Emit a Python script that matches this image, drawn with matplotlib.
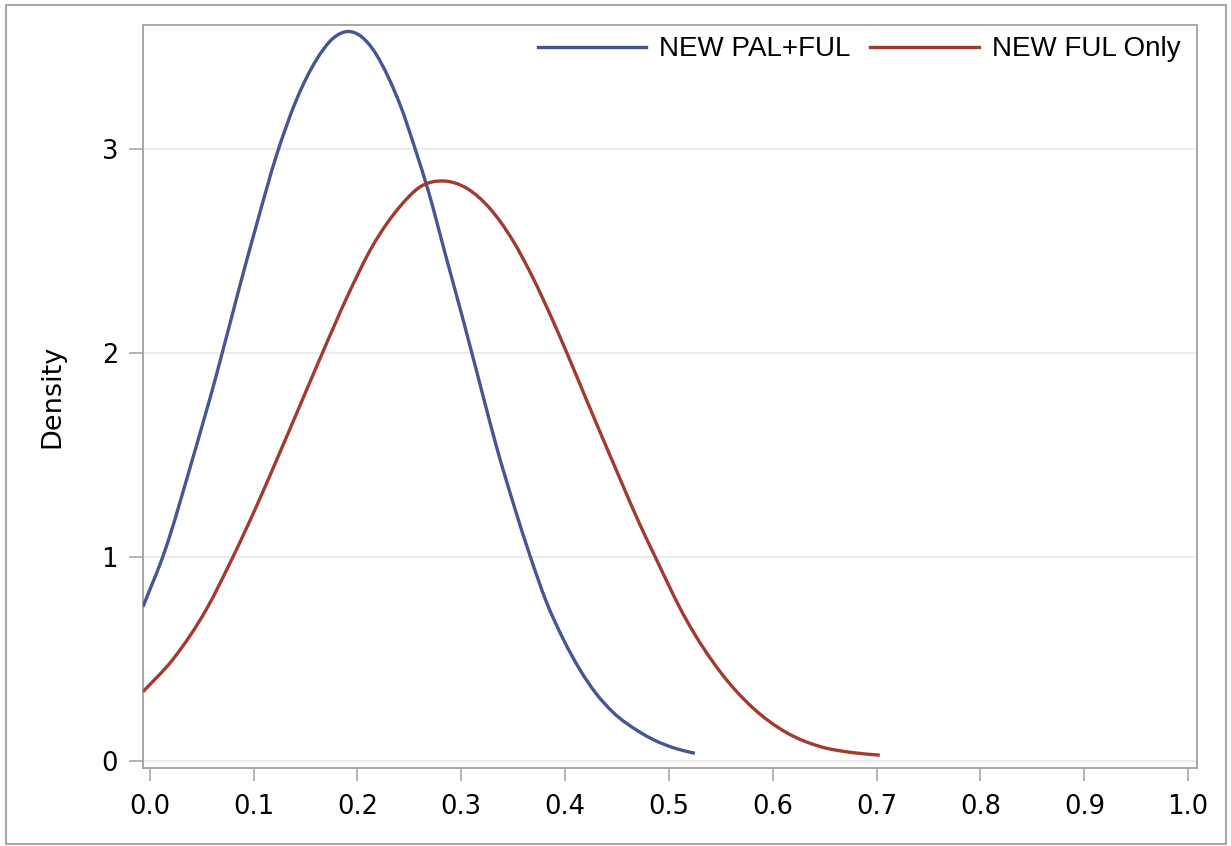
import matplotlib
matplotlib.use("Agg")
import matplotlib.pyplot as plt
from matplotlib.patches import Rectangle, PathPatch
from matplotlib.path import Path
from matplotlib.lines import Line2D

# ---- data ----
pal_ful_x = [-0.0065, 0.0145, 0.040, 0.064, 0.0867, 0.1028, 0.122, 0.141, 0.1606,
             0.1766, 0.191, 0.2025, 0.215, 0.231, 0.241, 0.257, 0.268, 0.286, 0.302,
             0.321, 0.334, 0.350, 0.366, 0.382, 0.398, 0.414, 0.430, 0.446, 0.472,
             0.485, 0.505, 0.525]
pal_ful_y = [0.757, 1.03, 1.46, 1.89, 2.33, 2.63, 2.97, 3.24, 3.44,
             3.545, 3.578, 3.558, 3.49, 3.34, 3.22, 2.98, 2.80, 2.46, 2.16,
             1.79, 1.54, 1.265, 1.01, 0.78, 0.60, 0.45, 0.33, 0.24, 0.142,
             0.105, 0.064, 0.038]

ful_only_x = [-0.0065, 0.0225, 0.0546, 0.080, 0.1028, 0.125, 0.141, 0.156, 0.167,
              0.1895, 0.215, 0.241, 0.260, 0.2826, 0.305, 0.3276, 0.350,
              0.369, 0.3886, 0.401, 0.4207, 0.4528, 0.472, 0.485, 0.517, 0.549,
              0.581, 0.613, 0.645, 0.6776, 0.703]
ful_only_y = [0.34, 0.50, 0.745, 1.0, 1.25, 1.51, 1.70, 1.88, 2.01,
              2.27, 2.53, 2.72, 2.815, 2.845, 2.81, 2.71, 2.55,
              2.37, 2.155, 2.01, 1.77, 1.385, 1.16, 1.02, 0.69, 0.44,
              0.26, 0.14, 0.072, 0.041, 0.029]

series_names = ["NEW PAL+FUL", "NEW FUL Only"]
x_ticks = [0.0, 0.1, 0.2, 0.3, 0.4, 0.5, 0.6, 0.7, 0.8, 0.9, 1.0]
x_tick_labels = ["0.0", "0.1", "0.2", "0.3", "0.4", "0.5", "0.6", "0.7", "0.8", "0.9", "1.0"]
y_ticks = [0, 1, 2, 3]
y_tick_labels = ["0", "1", "2", "3"]

BLUE = "#445694"
RED = "#A23A2E"
FRAME = "#A8A8A8"
LW = 2.4


def smooth_path(xs, ys):
    """Cubic Bezier path through the read points (smooth rendering only)."""
    n = len(xs)
    m = []
    for i in range(n):
        if i == 0:
            m.append((ys[1] - ys[0]) / (xs[1] - xs[0]))
        elif i == n - 1:
            m.append((ys[-1] - ys[-2]) / (xs[-1] - xs[-2]))
        else:
            h0 = xs[i] - xs[i - 1]
            h1 = xs[i + 1] - xs[i]
            d0 = (ys[i] - ys[i - 1]) / h0
            d1 = (ys[i + 1] - ys[i]) / h1
            m.append((d0 * h1 + d1 * h0) / (h0 + h1))
    verts = [(xs[0], ys[0])]
    codes = [Path.MOVETO]
    for i in range(n - 1):
        h = xs[i + 1] - xs[i]
        verts += [(xs[i] + h / 3, ys[i] + m[i] * h / 3),
                  (xs[i + 1] - h / 3, ys[i + 1] - m[i + 1] * h / 3),
                  (xs[i + 1], ys[i + 1])]
        codes += [Path.CURVE4] * 3
    return Path(verts, codes)


W, H = 1231, 846
fig = plt.figure(figsize=(W / 100, H / 100), dpi=100)

# outer border
fig.patches.append(Rectangle((6 / W, 1 - 844 / H), (1226 - 6) / W, (844 - 5) / H,
                             transform=fig.transFigure, fill=False,
                             edgecolor=FRAME, linewidth=1.5))

left, right, top, bottom = 143 / W, 1197 / W, 1 - 25 / H, 1 - 768 / H
ax = fig.add_axes([left, bottom, right - left, top - bottom])

for xs, ys, col in [(pal_ful_x, pal_ful_y, BLUE), (ful_only_x, ful_only_y, RED)]:
    ax.add_patch(PathPatch(smooth_path(xs, ys), facecolor="none", edgecolor=col,
                           lw=LW, capstyle="butt", joinstyle="round", zorder=3))

ax.set_xlim(-0.0065, 1.0085)
ax.set_ylim(-0.034, 3.61)

ax.set_xticks(x_ticks)
ax.set_xticklabels(x_tick_labels, fontsize=18.5, family="DejaVu Sans")
ax.set_yticks(y_ticks)
ax.set_yticklabels(y_tick_labels, fontsize=18.5, family="DejaVu Sans")
ax.tick_params(axis="x", length=9, width=1.2, color=FRAME, pad=10)
ax.tick_params(axis="y", length=10, width=1.2, color=FRAME, pad=8)

ax.grid(axis="y", color="#E6E6E6", lw=1.1)
ax.set_axisbelow(True)
for s in ax.spines.values():
    s.set_color(FRAME)
    s.set_linewidth(1.4)

ax.set_ylabel("Density", fontsize=19.5, family="DejaVu Sans", labelpad=26)

handles = [Line2D([], [], color=BLUE, lw=LW), Line2D([], [], color=RED, lw=LW)]
ax.legend(handles, series_names, loc="upper right", ncol=2, frameon=False,
          prop={"family": "Liberation Sans", "size": 20},
          handlelength=3.9, handletextpad=0.47, columnspacing=0.72,
          borderaxespad=0.2, bbox_to_anchor=(1.0, 1.007))

fig.savefig("out.png", dpi=100)
